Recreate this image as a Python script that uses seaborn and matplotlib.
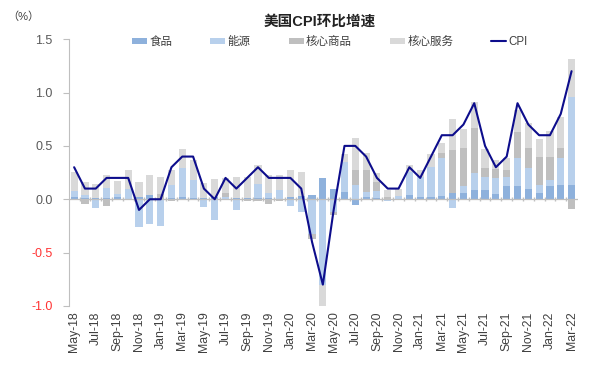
import numpy as np
import pandas as pd
import matplotlib
matplotlib.use("Agg")
import matplotlib.pyplot as plt
import seaborn as sns
from matplotlib.patches import Patch
from matplotlib.lines import Line2D

sns.set_theme(style="white")
plt.rcParams['font.family'] = ['Liberation Sans', 'Noto Sans CJK SC', 'DejaVu Sans']
plt.rcParams['axes.unicode_minus'] = False

months = ["May-18","Jun-18","Jul-18","Aug-18","Sep-18","Oct-18","Nov-18","Dec-18",
          "Jan-19","Feb-19","Mar-19","Apr-19","May-19","Jun-19","Jul-19","Aug-19",
          "Sep-19","Oct-19","Nov-19","Dec-19","Jan-20","Feb-20","Mar-20","Apr-20",
          "May-20","Jun-20","Jul-20","Aug-20","Sep-20","Oct-20","Nov-20","Dec-20",
          "Jan-21","Feb-21","Mar-21","Apr-21","May-21","Jun-21","Jul-21","Aug-21",
          "Sep-21","Oct-21","Nov-21","Dec-21","Jan-22","Feb-22","Mar-22"]

food = [0.02,0.01,0.01,0.01,0.02,-0.01,0.02,0.04,0.00,0.01,0.02,0.01,0.01,0.02,0.00,0.01,
        0.01,0.01,0.01,0.00,0.02,0.03,0.04,0.20,0.10,0.07,-0.05,0.02,0.01,0.00,0.00,0.04,
        0.02,0.02,0.03,0.06,0.06,0.09,0.09,0.05,0.12,0.12,0.10,0.06,0.12,0.13,0.13]
energy = [0.06,0.03,-0.08,0.10,0.03,0.10,-0.26,-0.23,-0.25,0.12,0.27,0.17,-0.07,-0.19,0.02,-0.10,
          0.00,0.13,0.05,0.09,-0.06,-0.12,-0.33,-0.80,-0.12,0.28,0.13,0.05,0.07,-0.02,0.03,0.22,
          0.19,0.28,0.36,-0.08,0.06,0.16,0.12,0.15,0.09,0.27,0.19,0.07,0.06,0.26,0.83]
core_goods = [0.00,-0.04,0.00,-0.06,0.00,0.00,0.00,0.00,0.05,-0.02,0.00,0.00,0.00,0.00,0.04,0.00,
              -0.02,-0.02,-0.04,-0.02,0.00,0.00,-0.04,0.00,-0.03,0.00,0.14,0.20,0.08,0.02,0.00,0.00,
              0.00,0.00,0.04,0.40,0.36,0.42,0.08,0.08,0.06,0.24,0.19,0.27,0.22,0.09,-0.09]
core_services = [0.18,0.12,0.13,0.12,0.12,0.17,0.14,0.19,0.16,0.14,0.18,0.19,0.14,0.17,0.14,0.20,
                 0.20,0.18,0.17,0.14,0.25,0.23,0.00,-0.20,0.00,0.07,0.30,0.16,0.09,0.07,0.07,0.06,
                 0.06,0.12,0.10,0.29,0.18,0.24,0.18,0.09,0.12,0.21,0.23,0.16,0.24,0.29,0.35]
cpi = [0.3,0.1,0.1,0.2,0.2,0.2,-0.1,0.0,0.0,0.3,0.4,0.4,0.1,0.0,0.2,0.1,0.2,0.3,0.2,0.2,
       0.2,0.1,-0.4,-0.8,-0.1,0.5,0.5,0.4,0.2,0.1,0.1,0.3,0.2,0.4,0.6,0.6,0.7,0.9,0.5,0.3,
       0.4,0.9,0.7,0.6,0.6,0.8,1.2]

names = ["食品", "能源", "核心商品", "核心服务"]
colors = ["#8EB1DC", "#B8D0EC", "#BFBFBF", "#D9D9D9"]
series = [food, energy, core_goods, core_services]

fig = plt.figure(figsize=(6.13, 3.66), dpi=100)
ax = fig.add_axes([0.113, 0.164, 0.83, 0.729])

n = len(months)
idx = np.arange(n)
pos_bottom = np.zeros(n)
neg_bottom = np.zeros(n)
for name, col, vals in zip(names, colors, series):
    v = np.array(vals, dtype=float)
    bottom = np.where(v >= 0, pos_bottom, neg_bottom)
    df = pd.DataFrame({"month": months, "value": v})
    sns.barplot(data=df, x="month", y="value", order=months, color=col,
                saturation=1, width=0.66, bottom=bottom, ax=ax, linewidth=0,
                errorbar=None)
    pos_bottom = pos_bottom + np.where(v > 0, v, 0)
    neg_bottom = neg_bottom + np.where(v < 0, v, 0)

# zero line with small tick marks
ax.axhline(0, color="#BFBFBF", lw=0.9, zorder=1)
ax.plot(idx[:-1] + 0.5, np.zeros(n - 1), linestyle="none", marker="|",
        markersize=3, color="#BFBFBF", zorder=1)

line_df = pd.DataFrame({"x": idx, "cpi": cpi})
sns.lineplot(data=line_df, x="x", y="cpi", color="#0D0D8C", lw=1.5, ax=ax, zorder=5)

ax.set_xlim(-0.45, n - 0.4)
ax.set_ylim(-1.0, 1.5)
ax.set_xlabel("")
ax.set_ylabel("")
ax.set_xticks(idx[::2])
ax.set_xticklabels(months[::2], rotation=90, fontsize=8.8, color="#404040")
ax.tick_params(axis="x", length=0, pad=4)
yt = [-1.0, -0.5, 0.0, 0.5, 1.0, 1.5]
ax.set_yticks(yt)
ax.set_yticklabels([f"{t:.1f}" for t in yt], fontsize=9)
for lab, t in zip(ax.get_yticklabels(), yt):
    lab.set_color("#FF3333" if t < 0 else "#595959")
ax.tick_params(axis="y", length=4, width=0.8, color="#BFBFBF", direction="out", pad=8, left=True)
for s in ["top", "right", "bottom"]:
    ax.spines[s].set_visible(False)
ax.spines["left"].set_color("#BFBFBF")
ax.spines["left"].set_linewidth(0.8)
ax.grid(False)

fig.text(0.522, 0.942, "美国CPI环比增速", ha="center", va="center", fontsize=10.5,
         fontweight="bold", color="#222222")
fig.text(0.012, 0.955, "（%）", ha="left", va="center", fontsize=8, color="#404040")

handles = [Patch(facecolor=c, edgecolor="none") for c in colors]
handles.append(Line2D([0], [0], color="#0D0D8C", lw=1.5))
fig.legend(handles, names + ["CPI"], loc="center", bbox_to_anchor=(0.538, 0.885), ncol=5,
           frameon=False, fontsize=8.3, handlelength=1.3, handleheight=0.55,
           columnspacing=3.3, handletextpad=0.2, labelcolor="#404040")

fig.savefig("out.png", dpi=100)
